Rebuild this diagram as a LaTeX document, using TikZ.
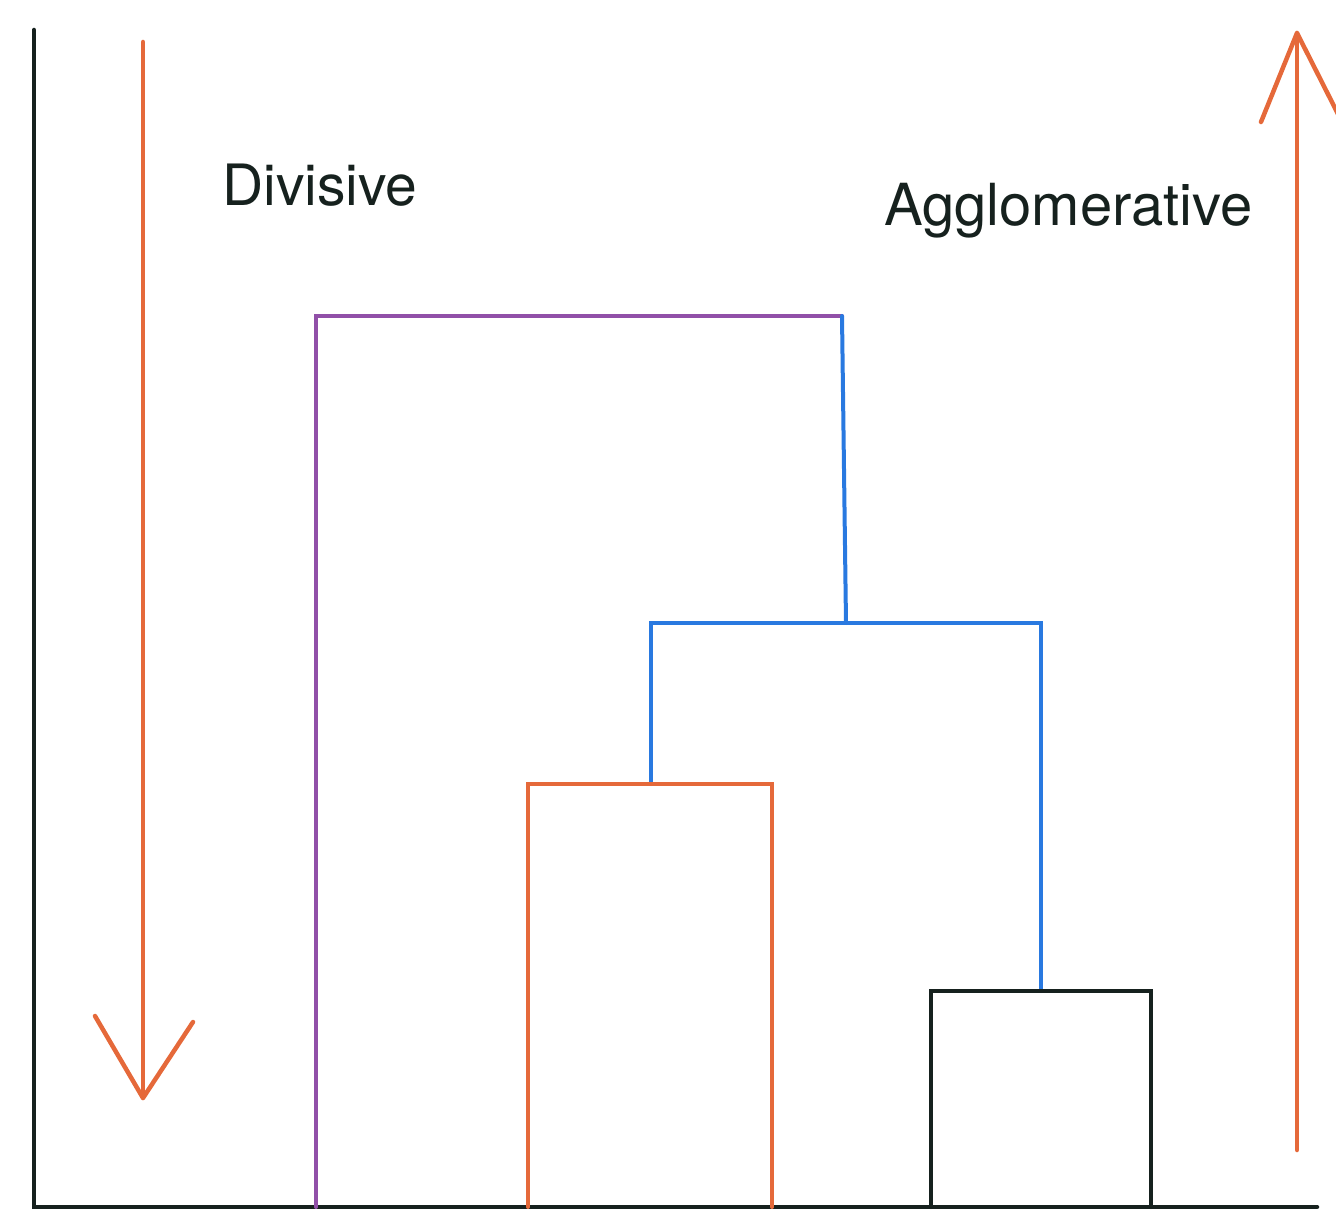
\documentclass[tikz,border=0pt]{standalone}
\usepackage{fontspec}
\setmainfont{TeX Gyre Heros}
\definecolor{cOrange}{HTML}{E5693A}
\definecolor{cPurple}{HTML}{9150A8}
\definecolor{cBlue}{HTML}{2979E0}
\definecolor{cInk}{HTML}{16211E}
\begin{document}
\begin{tikzpicture}[x=1pt,y=-1pt,
  axisline/.style={draw=cInk,line width=4.5pt,line cap=round},
  stroke/.style={line width=4pt,line cap=round,line join=miter},
  arrowline/.style={draw=cOrange,line width=4.5pt,line cap=round,line join=round},
  label/.style={font=\fontsize{57}{60}\selectfont,text=cInk,inner sep=0pt,anchor=base west}]
\useasboundingbox (0,0) rectangle (1336,1230);
% axes
\coordinate (top) at (34,30);
\coordinate (origin) at (34,1207);
\coordinate (xend) at (1317,1207);
\draw[axisline] (top) -- (origin) -- (xend);
% labels
\node[label] (div) at (222,206) {Divisive};
\node[label,font=\fontsize{58}{60}\selectfont] (agg) at (884,226) {Agglomerative};
% divisive arrow (down)
\coordinate (dTop) at (143,42);
\coordinate (dTip) at (143,1098);
\coordinate (dL) at (95,1016);
\coordinate (dR) at (193,1022);
\draw[arrowline] (dTop) -- (dTip);
\draw[arrowline] (dL) -- (dTip) -- (dR);
% agglomerative arrow (up)
\coordinate (aBot) at (1297,1150);
\coordinate (aTip) at (1297,33);
\coordinate (aL) at (1261,122);
\coordinate (aR) at (1340,118);
\draw[arrowline] (aBot) -- (aTip);
\draw[arrowline] (aL) -- (aTip) -- (aR);
% dendrogram
\coordinate (p0) at (316,1207);
\coordinate (p1) at (316,316);
\coordinate (p2) at (842,316);
\coordinate (b0) at (846,623);
\coordinate (bL) at (651,623);
\coordinate (bR) at (1041,623);
\coordinate (oTop) at (651,784);
\coordinate (o1) at (528,784);
\coordinate (o2) at (772,784);
\coordinate (k1) at (931,991);
\coordinate (k2) at (1151,991);
\coordinate (kTop) at (1041,991);
\draw[stroke,draw=cPurple] (p0) -- (p1) -- (p2);
\draw[stroke,draw=cBlue] (p2) -- (b0);
\draw[stroke,draw=cBlue] (oTop) -- (bL) -- (bR) -- (kTop);
\draw[stroke,draw=cOrange] (528,1207) -- (o1) -- (o2) -- (772,1207);
\draw[stroke,draw=cInk] (931,1207) -- (k1) -- (k2) -- (1151,1207);
\end{tikzpicture}
\end{document}
